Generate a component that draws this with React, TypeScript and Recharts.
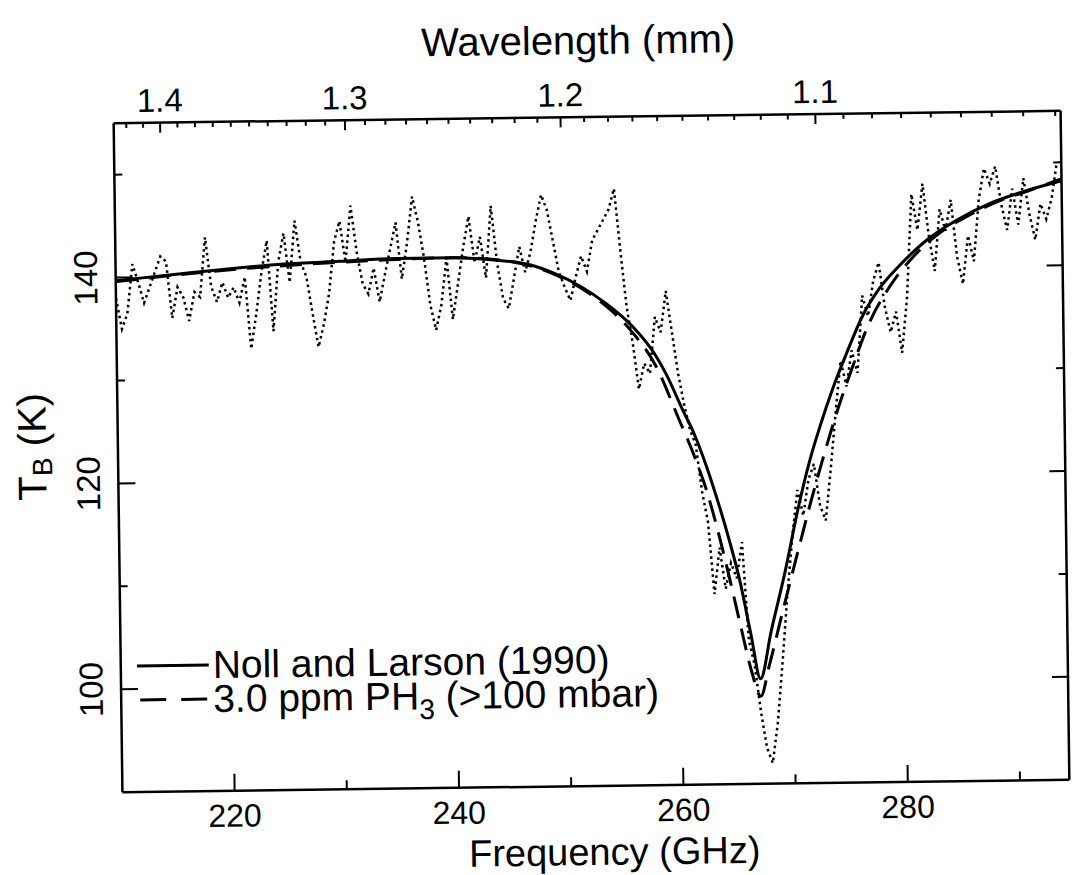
import { LineChart, Line, XAxis, YAxis, Legend } from 'recharts';

const FONT = '"Liberation Sans", Arial, sans-serif';
const C_MM_GHZ = 299.792458;

// observed spectrum (dotted)
const observedFreq = [
  210, 210.5, 211, 211.5, 212, 212.5, 213, 213.5, 214, 214.5, 215, 215.5, 216, 216.5, 217, 217.5,
  218, 218.5, 219, 219.5, 220, 220.5, 221, 221.5, 222, 222.5, 223, 223.5, 224, 224.5, 225, 225.5,
  226, 226.5, 227, 227.5, 228, 228.5, 229, 229.5, 230, 230.5, 231, 231.5, 232, 232.5, 233, 233.5,
  234, 234.5, 235, 235.5, 236, 236.5, 237, 237.5, 238, 238.5, 239, 239.5, 240, 240.5, 241, 241.5,
  242, 242.5, 243, 243.5, 244, 244.5, 245, 245.5, 246, 246.5, 247, 247.5, 248, 248.5, 249, 249.5,
  250, 250.5, 251, 251.5, 252, 252.5, 253, 253.5, 254, 254.5, 255, 255.5, 256, 256.5, 257, 257.5,
  258, 258.5, 259, 259.5, 260, 260.5, 261, 261.5, 262, 262.5, 263, 263.5, 264, 264.5, 265, 265.5,
  266, 266.5, 267, 267.5, 268, 268.5, 269, 269.5, 270, 270.5, 271, 271.5, 272, 272.5, 273, 273.5,
  274, 274.5, 275, 275.5, 276, 276.5, 277, 277.5, 278, 278.5, 279, 279.5, 280, 280.5, 281, 281.5,
  282, 282.5, 283, 283.5, 284, 284.5, 285, 285.5, 286, 286.5, 287, 287.5, 288, 288.5, 289, 289.5,
  290, 290.5, 291, 291.5, 292, 292.5, 293, 293.5, 294,
];
const observedTb = [
  138, 135, 136.5, 141.3, 139.5, 137.5, 139, 140.5, 142, 141.5, 136, 139, 138, 135.7, 138.5, 138,
  143.8, 139, 137.5, 139.4, 137.9, 138.9, 137.4, 139.9, 132.9, 136.4, 140.4, 143.4, 134.6, 141.3, 144.1, 139.3,
  145.3, 141.3, 139.8, 136.3, 133, 135.2, 138.2, 143.2, 145.2, 141.2, 146.7, 142.2, 139.1, 138.1, 140.6, 137.3,
  140, 142.5, 145, 139.5, 143, 147.5, 145, 141.5, 137, 134.5, 137, 141.5, 135.5, 139, 142.5, 145.5,
  141, 143.5, 139.5, 146.5, 141, 137.5, 136.5, 139.5, 142.5, 140, 142, 145, 147.5, 146, 143, 140,
  138.5, 137.2, 139.5, 141.5, 140, 143, 144, 145, 146, 148, 142, 136.5, 133, 128.5, 131, 130,
  135.5, 134, 138, 134, 130, 127, 124.5, 123, 118.5, 115.5, 108.5, 113, 109, 111.5, 110, 113.5,
  104, 101.5, 97, 93.5, 92, 96, 102, 108.5, 114, 118.5, 116, 119.5, 121, 117, 115.5, 120.5,
  126, 131, 128.5, 132, 129.8, 137.3, 135.3, 138.7, 140.5, 136.2, 133.7, 135.7, 131.7, 137.1, 147.1, 143.6,
  148.1, 143.1, 139.6, 145.6, 143.5, 146.5, 141, 138.3, 143, 140.5, 146.5, 149.5, 148, 149.7, 146, 143.5,
  147.5, 144, 148.5, 145, 142.5, 146, 144.5, 146.5, 150,
];

// Noll and Larson (1990) model (solid)
const nollFreq = [
  210, 215, 220, 225, 230, 235, 240, 244, 247, 249, 251.5, 253.5, 256, 258, 259, 260.3, 261.4,
  262.4, 263.4, 264.4, 265.3, 266.2, 267, 268, 269.4, 270.5, 271.6, 272.7, 273.7, 275, 276.5,
  278, 279.8, 282.3, 285, 288, 291, 294.4,
];
const nollTb = [
  139.7, 140.2, 140.7, 141.1, 141.3, 141.5, 141.5, 141.2, 140.7, 139.9, 138.5, 137, 134.6, 131.8,
  129.8, 126.6, 124, 121, 117.5, 113.6, 109.6, 104.5, 100.2, 104.8, 111, 116.5, 121.2, 125, 128.1,
  131.6, 135.3, 137.9, 140.1, 142.6, 144.5, 146.1, 147.2, 148.2,
];

// 3.0 ppm PH3 model (dashed)
const ph3Freq = [
  210, 220, 230, 240, 245, 249, 252, 254, 256, 258, 260, 261.4, 262.4, 263.4, 264.4, 265.3,
  266.2, 267, 267.8, 269, 270.3, 271.6, 272.7, 274.2, 275.5, 277, 279, 281, 283, 286, 289,
  291.5, 294.4,
];
const ph3Tb = [
  139.6, 140.6, 141.2, 141.5, 141.1, 139.8, 138, 136.3, 134, 130.8, 125.6, 121.8, 118.6, 114.5,
  109.8, 105.3, 101, 98.5, 101.5, 106.5, 111.8, 117, 121.1, 126.3, 130.2, 134.4, 138.2, 140.9,
  142.9, 144.9, 146.4, 147.3, 148.4,
];

const legendLabels = ['Noll and Larson (1990)', '3.0 ppm PH|3| (>100 mbar)'];

const freqTicks = [220, 230, 240, 250, 260, 270, 280, 290];
const freqLabels = [220, 240, 260, 280];
const tbTicks = [100, 110, 120, 130, 140, 150];
const tbLabels = [100, 120, 140];
const wavelengthTicks = [
  1.42, 1.41, 1.4, 1.39, 1.38, 1.37, 1.36, 1.35, 1.34, 1.33, 1.32, 1.31, 1.3, 1.29, 1.28, 1.27,
  1.26, 1.25, 1.24, 1.23, 1.22, 1.21, 1.2, 1.19, 1.18, 1.17, 1.16, 1.15, 1.14, 1.13, 1.12, 1.11,
  1.1, 1.09, 1.08, 1.07, 1.06, 1.05, 1.04, 1.03, 1.02,
];
const wavelengthLabels = [1.4, 1.3, 1.2, 1.1];

const observed = observedFreq.map((f, i) => ({ freq: f, tb: observedTb[i] }));
const noll = nollFreq.map((f, i) => ({ freq: f, tb: nollTb[i] }));
const ph3 = ph3Freq.map((f, i) => ({ freq: f, tb: ph3Tb[i] }));

const FREQ_DOMAIN = [210, 294.4];
const TB_DOMAIN = [90, 155];

const BottomTick = ({ x, y, payload }: any) => {
  const major = freqLabels.includes(payload.value);
  return (
    <g>
      <line x1={x} y1={y} x2={x} y2={y - (major ? 17 : 9)} stroke="#000" strokeWidth={2} />
      {major && (
        <text x={x} y={y + 36} textAnchor="middle" fontSize={32} fontFamily={FONT} fill="#000">
          {payload.value}
        </text>
      )}
    </g>
  );
};

const TopTick = ({ x, y, payload }: any) => {
  const w = Math.round((C_MM_GHZ / payload.value) * 100) / 100;
  const major = wavelengthLabels.includes(w);
  return (
    <g>
      <line x1={x} y1={y} x2={x} y2={y + (major ? 10 : 5)} stroke="#000" strokeWidth={2} />
      {major && (
        <text x={x} y={y - 11} textAnchor="middle" fontSize={33} fontFamily={FONT} fill="#000">
          {w.toFixed(1)}
        </text>
      )}
    </g>
  );
};

const LeftTick = ({ x, y, payload }: any) => {
  const major = tbLabels.includes(payload.value);
  const cx = x - 30;
  return (
    <g>
      <line x1={x} y1={y} x2={x + (major ? 17 : 8)} y2={y} stroke="#000" strokeWidth={2} />
      {major && (
        <text
          x={cx}
          y={y}
          transform={`rotate(-90 ${cx} ${y})`}
          textAnchor="middle"
          dominantBaseline="central"
          fontSize={33}
          fontFamily={FONT}
          fill="#000"
        >
          {payload.value}
        </text>
      )}
    </g>
  );
};

const RightTick = ({ x, y, payload }: any) => {
  const major = tbLabels.includes(payload.value);
  return <line x1={x} y1={y} x2={x - (major ? 16 : 8)} y2={y} stroke="#000" strokeWidth={2} />;
};

const titleStyle = { fontSize: 40, fontFamily: FONT, fill: '#000' };

const FreqTitle = ({ viewBox }: any) => (
  <text
    x={viewBox.x + viewBox.width / 2 + 18}
    y={viewBox.y + 79}
    textAnchor="middle"
    {...titleStyle}
    fontSize={38}
  >
    Frequency (GHz)
  </text>
);

const WaveTitle = ({ viewBox }: any) => (
  <text x={viewBox.x + viewBox.width / 2 - 8} y={viewBox.y + 54} textAnchor="middle" {...titleStyle}>
    Wavelength (mm)
  </text>
);

const TbTitle = ({ viewBox }: any) => {
  const cx = viewBox.x + 32;
  const cy = viewBox.y + viewBox.height / 2 - 12;
  return (
    <text
      x={cx}
      y={cy}
      transform={`rotate(-90 ${cx} ${cy})`}
      textAnchor="middle"
      dominantBaseline="central"
      {...titleStyle}
    >
      T<tspan dy={10} fontSize={28}>B</tspan>
      <tspan dy={-10}> (K)</tspan>
    </text>
  );
};

const renderLegend = () => (
  <div style={{ fontFamily: FONT, fontSize: 39, lineHeight: '34px', color: '#000' }}>
    {legendLabels.map((label, i) => {
      const parts = label.split('|');
      return (
        <div key={label} style={{ display: 'flex', alignItems: 'center', whiteSpace: 'nowrap' }}>
          <svg width={76} height={12} style={{ display: 'block' }}>
            <line
              x1={i === 0 ? 0 : 3}
              y1={6}
              x2={72}
              y2={6}
              stroke="#000"
              strokeWidth={3}
              strokeDasharray={i === 0 ? undefined : '26 15'}
            />
          </svg>
          <span>
            {parts[0]}
            {parts[1] && (
              <span style={{ fontSize: 28, verticalAlign: '-0.35em', lineHeight: 0 }}>{parts[1]}</span>
            )}
            {parts[2]}
          </span>
        </div>
      );
    })}
  </div>
);

export default function App() {
  return (
    <div
      style={{
        position: 'absolute',
        left: 0,
        top: 0,
        background: '#fff',
        // the scanned original sits slightly tilted
        transform: 'rotate(-0.75deg)',
        transformOrigin: '592px 451px',
      }}
    >
      <LineChart width={1073} height={875} margin={{ top: 0, right: 0, bottom: 0, left: 0 }}>
        <XAxis
          xAxisId="bottom"
          dataKey="freq"
          type="number"
          orientation="bottom"
          domain={FREQ_DOMAIN}
          ticks={freqTicks}
          interval={0}
          height={89}
          tickSize={0}
          tickMargin={0}
          tickLine={false}
          tick={<BottomTick />}
          axisLine={{ stroke: '#000', strokeWidth: 2.5 }}
          allowDataOverflow
          label={<FreqTitle />}
        />
        <XAxis
          xAxisId="top"
          dataKey="freq"
          type="number"
          orientation="top"
          domain={FREQ_DOMAIN}
          ticks={wavelengthTicks.map((w) => C_MM_GHZ / w)}
          interval={0}
          height={117}
          tickSize={0}
          tickMargin={0}
          tickLine={false}
          tick={<TopTick />}
          axisLine={{ stroke: '#000', strokeWidth: 2.5 }}
          allowDataOverflow
          label={<WaveTitle />}
        />
        <YAxis
          yAxisId="left"
          type="number"
          domain={TB_DOMAIN}
          ticks={tbTicks}
          interval={0}
          width={118}
          tickSize={0}
          tickMargin={0}
          tickLine={false}
          tick={<LeftTick />}
          axisLine={{ stroke: '#000', strokeWidth: 2.5 }}
          allowDataOverflow
          label={<TbTitle />}
        />
        <YAxis
          yAxisId="right"
          orientation="right"
          type="number"
          domain={TB_DOMAIN}
          ticks={tbTicks}
          interval={0}
          width={8}
          tickSize={0}
          tickMargin={0}
          tickLine={false}
          tick={<RightTick />}
          axisLine={{ stroke: '#000', strokeWidth: 2.5 }}
          allowDataOverflow
        />
        <Legend
          layout="vertical"
          align="center"
          verticalAlign="middle"
          content={renderLegend}
          wrapperStyle={{ left: 134, top: 643, width: 620 }}
        />
        <Line
          xAxisId="bottom"
          yAxisId="left"
          data={observed}
          dataKey="tb"
          type="linear"
          stroke="#000"
          strokeWidth={2.5}
          strokeDasharray="2.5 3.5"
          dot={false}
          isAnimationActive={false}
        />
        <Line
          xAxisId="bottom"
          yAxisId="left"
          data={ph3}
          dataKey="tb"
          type="monotone"
          stroke="#000"
          strokeWidth={3}
          strokeDasharray="22 11"
          dot={false}
          isAnimationActive={false}
        />
        <Line
          xAxisId="bottom"
          yAxisId="left"
          data={noll}
          dataKey="tb"
          type="monotone"
          stroke="#000"
          strokeWidth={3}
          dot={false}
          isAnimationActive={false}
        />
      </LineChart>
    </div>
  );
}
